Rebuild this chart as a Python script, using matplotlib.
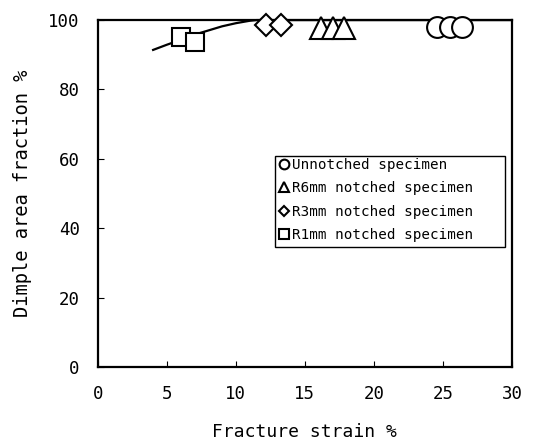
import matplotlib
matplotlib.use('Agg')
import matplotlib.pyplot as plt
from matplotlib.lines import Line2D
from matplotlib.patches import Rectangle

plt.rcParams['font.family'] = ['DejaVu Sans Mono']

# Data (fracture strain %, dimple area fraction %)
unnotched_x = [24.6, 25.5, 26.4]
unnotched_y = [98.0, 98.0, 98.0]
r6_x = [16.2, 17.0, 17.8]
r6_y = [97.8, 97.8, 97.8]
r3_x = [12.2, 13.3]
r3_y = [98.7, 98.7]
r1_x = [6.0, 7.0]
r1_y = [95.0, 93.6]

# trend line drawn through the points
trend_x = [4.0, 5.0, 6.0, 7.0, 8.0, 9.0, 10.0, 11.0, 11.5, 30.0]
trend_y = [91.4, 92.9, 94.3, 95.8, 97.0, 98.2, 99.1, 99.8, 100.0, 100.0]

labels = ['Unnotched specimen', 'R6mm notched specimen',
          'R3mm notched specimen', 'R1mm notched specimen']

fig = plt.figure(figsize=(5.44, 4.46), dpi=100)
ax = fig.add_axes([0.180, 0.177, 0.761, 0.778])

ax.plot(trend_x, trend_y, color='black', lw=1.6, zorder=2, clip_on=False)

style = dict(linestyle='none', markerfacecolor='white', markeredgecolor='black',
             markeredgewidth=1.5)
ax.plot(unnotched_x, unnotched_y, marker='o', markersize=15, zorder=3, clip_on=False, **style)
ax.plot(r6_x, r6_y, marker='^', markersize=16, zorder=3, clip_on=False, **style)
ax.plot(r3_x, r3_y, marker='D', markersize=11.5, zorder=3, clip_on=False, **style)
ax.plot(r1_x, r1_y, marker='s', markersize=13, zorder=3, clip_on=False, **style)

ax.set_xlim(0, 30)
ax.set_ylim(0, 100)
ax.set_xticks([0, 5, 10, 15, 20, 25, 30])
ax.set_yticks([0, 20, 40, 60, 80, 100])
ax.tick_params(direction='in', length=4, width=0.8, labelsize=12.5)
ax.tick_params(axis='x', pad=13)
ax.tick_params(axis='y', pad=13)
for s in ax.spines.values():
    s.set_linewidth(1.6)

ax.set_xlabel('Fracture strain %', fontsize=13, labelpad=14)
ax.set_ylabel('Dimple area fraction %', fontsize=13.5, labelpad=12)

handles = [
    Line2D([], [], marker='o', markersize=7, **style),
    Line2D([], [], marker='^', markersize=7.5, **style),
    Line2D([], [], marker='D', markersize=5.5, **style),
    Line2D([], [], marker='s', markersize=7, **style),
]
leg = ax.legend(handles, labels, loc='center left', bbox_to_anchor=(0.435, 0.481),
                fontsize=10.3, frameon=False, handlelength=0.8, handletextpad=0.2,
                labelspacing=0.66, borderpad=0, borderaxespad=0)

# legend frame, wider than the entries as in the original
ax.add_patch(Rectangle((0.4275, 0.346), 0.5555, 0.262, transform=ax.transAxes,
                       fill=False, edgecolor='black', lw=1.0, zorder=4))

fig.savefig('out.png', dpi=100)
